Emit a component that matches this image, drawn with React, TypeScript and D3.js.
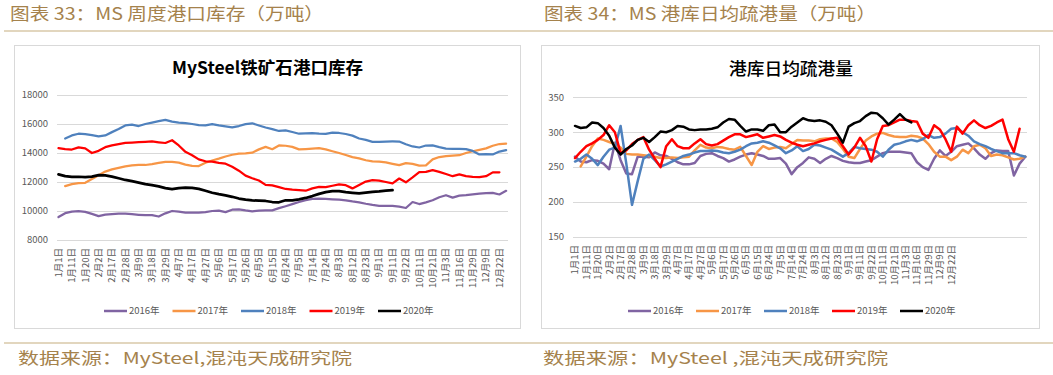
import React from 'react';
import * as d3 from 'd3';

// ---------- data ----------
const tickLabels = ['1月1日','1月11日','1月20日','2月2日','2月17日','2月28日','3月9日','3月18日','3月29日','4月7日','4月17日','4月27日','5月6日','5月17日','5月26日','6月5日','6月15日','6月24日','7月5日','7月14日','7月24日','8月3日','8月12日','8月23日','9月1日','9月11日','9月22日','10月11日','10月21日','11月3日','11月16日','11月29日','12月9日','12月22日'];
const seriesNames = ['2016年', '2017年', '2018年', '2019年', '2020年'];
const seriesColors = ['#8064a2', '#f79646', '#4f81bd', '#ff0000', '#000000'];

// MySteel iron ore port inventory (68 weekly-ish categories)
const inv2016 = [9582,9850,9960,9990,9940,9800,9651,9744,9790,9814,9814,9780,9740,9710,9721,9620,9840,10000,9950,9883,9890,9883,9920,10000,10030,9920,10090,10115,10040,9976,10030,10046,10046,10200,10330,10470,10620,10740,10840,10856,10840,10810,10780,10740,10660,10600,10500,10420,10360,10347,10347,10300,10208,10620,10480,10600,10740,10950,11088,10920,11060,11088,11150,11190,11225,11250,11140,11389];
const inv2017 = [null,11713,11850,11920,11945,12200,12470,12720,12872,12980,13080,13140,13173,13173,13240,13320,13390,13390,13335,13200,13110,13100,13330,13480,13610,13760,13880,13950,13970,14020,14250,14420,14260,14520,14500,14420,14250,14270,14300,14330,14250,14120,14000,13860,13720,13630,13500,13420,13400,13350,13250,13160,13300,13250,13130,13150,13560,13720,13780,13822,13845,14000,14120,14220,14320,14500,14620,14640];
const inv2018 = [null,15000,15212,15330,15300,15230,15143,15212,15440,15650,15900,15950,15860,16000,16100,16200,16290,16160,16100,16060,16000,15930,15900,15990,15900,15840,15770,15860,15990,16050,15900,15760,15650,15520,15560,15450,15330,15360,15370,15330,15320,15400,15380,15310,15200,15000,14900,14770,14760,14790,14795,14790,14600,14450,14380,14517,14520,14400,14300,14285,14285,14270,14146,13900,13920,13900,14100,14200];
const inv2019 = [14330,14260,14240,14390,14320,14000,14150,14400,14520,14610,14700,14720,14749,14770,14795,14740,14690,14880,14520,14080,13850,13560,13430,13400,13320,13260,13050,12780,12440,12260,12100,11800,11770,11650,11520,11470,11440,11400,11560,11660,11640,11740,11830,11780,11560,11800,12030,12130,12100,12000,11900,12240,11980,12320,12680,12700,12820,12700,12550,12400,12520,12400,12360,12340,12400,12664,12664,null];
const inv2020 = [12525,12400,12350,12362,12330,12370,12480,12450,12370,12260,12140,12060,11960,11850,11790,11700,11580,11505,11570,11610,11600,11530,11400,11260,11160,11080,10980,10860,10780,10730,10710,10690,10620,10600,10740,10740,10800,10900,11030,11180,11300,11366,11366,11300,11250,11210,11260,11320,11350,11400,11436,null,null,null,null,null,null,null,null,null,null,null,null,null,null,null,null,null];
const invTicks = [8000, 10000, 12000, 14000, 16000, 18000];

// Daily average port clearance (80 categories)
const clr2016 = [265,258,257,260,259,255,247,285,260,241,240,265,265,264,271,267,266,262,257,254,254,256,266,269,270,266,263,258,261,265,268,270,268,266,262,262,263,255,240,250,256,264,262,256,262,266,263,259,257,256,256,258,260,265,270,272,272,272,271,270,257,250,246,262,274,266,272,280,282,284,277,268,262,270,274,273,273,238,255,265];
const clr2017 = [null,251,265,280,291,289,286,283,278,269,268,268,267,266,265,263,263,264,263,264,265,274,282,278,277,279,278,276,275,279,266,253,272,280,276,278,279,277,283,289,288,288,287,290,291,291,286,276,265,263,276,288,294,298,299,296,294,293,293,295,294,291,283,272,265,265,260,265,275,270,280,282,277,266,268,267,264,261,262,265];
const clr2018 = [258,262,268,262,253,265,275,278,309,255,196,230,262,268,260,251,254,258,262,266,268,271,273,273,274,273,271,270,272,275,280,284,285,287,285,281,277,270,274,280,273,276,282,281,278,275,270,265,270,279,277,276,275,272,265,275,282,284,287,289,287,290,296,292,293,298,305,306,300,295,287,283,280,276,273,270,270,270,267,265];
const clr2019 = [263,272,280,284,289,296,310,300,270,274,283,289,293,275,262,250,280,290,280,277,277,284,290,283,281,283,288,293,297,297,293,295,297,292,294,296,294,289,285,282,280,282,284,287,289,291,292,280,268,278,292,280,258,290,309,310,314,318,318,316,315,298,292,310,304,290,272,308,298,310,317,310,306,309,314,318,290,272,305,null];
const clr2020 = [309,306,307,314,313,306,295,278,268,276,281,289,292,286,293,301,300,303,309,308,304,303,304,304,305,307,314,319,318,309,301,304,304,302,310,311,300,300,308,314,320,317,316,317,315,310,298,285,308,313,316,323,328,327,320,311,318,326,318,314,null,null,null,null,null,null,null,null,null,null,null,null,null,null,null,null,null,null,null,null];
const clrTicks = [150, 200, 250, 300, 350];

type Cfg = {
  box: [number, number, number, number];
  n: number;
  xRange: [number, number];
  gridX: [number, number];
  yDomain: [number, number];
  yRange: [number, number];
  yTicks: number[];
  tickX: number;
  title: string;
  titleX: number;
  titleY: number;
  titleW: number;
  titleWeight: number;
  series: (number | null)[][];
  widths: number[];
  legendStart: number;
  legendStep: number;
};

const FONT = '"Noto Sans CJK SC", "Noto Sans", sans-serif';

function Chart({ c }: { c: Cfg }) {
  const x = d3.scalePoint<number>().domain(d3.range(c.n)).range(c.xRange);
  const y = d3.scaleLinear().domain(c.yDomain).range(c.yRange);
  const bottom = c.yRange[0];
  const line = d3
    .line<number | null>()
    .defined((d) => d != null)
    .x((_, i) => x(i) as number)
    .y((d) => y(d as number));
  const legendY = 311;
  return (
    <g>
      <rect x={c.box[0] + 0.5} y={c.box[1] + 0.5} width={c.box[2]} height={c.box[3]} fill="#fff" stroke="#d9d9d9" strokeWidth={1} />
      <text x={c.titleX} y={c.titleY} textAnchor="middle" fontFamily={FONT} fontSize={17} fontWeight={c.titleWeight} fill="#000" textLength={c.titleW} lengthAdjust="spacingAndGlyphs">
        {c.title}
      </text>
      {c.yTicks.map((t) => (
        <g key={t}>
          <line x1={c.gridX[0]} x2={c.gridX[1]} y1={Math.round(y(t)) + 0.5} y2={Math.round(y(t)) + 0.5} stroke="#d9d9d9" strokeWidth={1} />
          <text x={c.tickX} y={y(t)} dy="0.35em" textAnchor="end" fontFamily={FONT} fontSize={9.5} fill="#595959">
            {t}
          </text>
        </g>
      ))}
      {tickLabels.map((lab, k) => (
        <text
          key={lab}
          transform={`translate(${x(2 * k)},${bottom + 8}) rotate(-90)`}
          dy="0.35em"
          textAnchor="end"
          fontFamily={FONT}
          fontSize={9.5}
          fill="#595959"
        >
          {lab}
        </text>
      ))}
      {c.series.map((s, i) => (
        <path key={i} d={line(s) || ''} fill="none" stroke={seriesColors[i]} strokeWidth={c.widths[i]} strokeLinejoin="round" strokeLinecap="round" />
      ))}
      {seriesNames.map((name, i) => {
        const lx = c.legendStart + i * c.legendStep;
        return (
          <g key={name}>
            <line x1={lx} x2={lx + 23} y1={legendY} y2={legendY} stroke={seriesColors[i]} strokeWidth={2.5} />
            <text x={lx + 25} y={legendY} dy="0.35em" fontFamily={FONT} fontSize={9.5} fill="#595959">
              {name}
            </text>
          </g>
        );
      })}
    </g>
  );
}

const left: Cfg = {
  box: [14, 45, 506, 283],
  n: 68,
  xRange: [58.5, 506.1],
  gridX: [57, 508],
  yDomain: [8000, 18000],
  yRange: [240, 95],
  yTicks: invTicks,
  tickX: 48,
  title: 'MySteel铁矿石港口库存',
  titleX: 267.5,
  titleY: 74,
  titleW: 191,
  titleWeight: 700,
  series: [inv2016, inv2017, inv2018, inv2019, inv2020],
  widths: [2.25, 2.25, 2.25, 2.25, 2.75],
  legendStart: 104,
  legendStep: 68.5,
};

const right: Cfg = {
  box: [541, 45, 498, 283],
  n: 80,
  xRange: [575, 1025.3],
  gridX: [573, 1027],
  yDomain: [150, 350],
  yRange: [237, 97.3],
  yTicks: clrTicks,
  tickX: 564,
  title: '港库日均疏港量',
  titleX: 791,
  titleY: 75,
  titleW: 124,
  titleWeight: 500,
  series: [clr2016, clr2017, clr2018, clr2019, clr2020],
  widths: [2.5, 2.5, 2.5, 2.5, 2.5],
  legendStart: 628,
  legendStep: 68,
};

const GOLD = '#a5824c';
const RULE = '#d8c9a8';

export default function App() {
  return (
    <svg width={1053} height={375} style={{ position: 'absolute', left: 0, top: 0, background: '#fff' }} xmlns="http://www.w3.org/2000/svg">
      <rect x={0} y={0} width={1053} height={375} fill="#fff" />
      <text x={10} y={20} fontFamily={FONT} fontSize={17} fill={GOLD} textLength={314} lengthAdjust="spacingAndGlyphs">
        图表 33：MS 周度港口库存（万吨）
      </text>
      <text x={544} y={20} fontFamily={FONT} fontSize={17} fill={GOLD} textLength={332} lengthAdjust="spacingAndGlyphs">
        图表 34：MS 港库日均疏港量（万吨）
      </text>
      <line x1={4} x2={1053} y1={31} y2={31} stroke={RULE} strokeWidth={1.5} />
      <Chart c={left} />
      <Chart c={right} />
      <line x1={4} x2={1053} y1={343} y2={343} stroke={RULE} strokeWidth={1.5} />
      <text x={18} y={364} fontFamily={FONT} fontSize={16} fill={GOLD} textLength={334} lengthAdjust="spacingAndGlyphs">
        数据来源：MySteel,混沌天成研究院
      </text>
      <text x={543} y={364} fontFamily={FONT} fontSize={16} fill={GOLD} textLength={345} lengthAdjust="spacingAndGlyphs">
        数据来源：MySteel ,混沌天成研究院
      </text>
    </svg>
  );
}
